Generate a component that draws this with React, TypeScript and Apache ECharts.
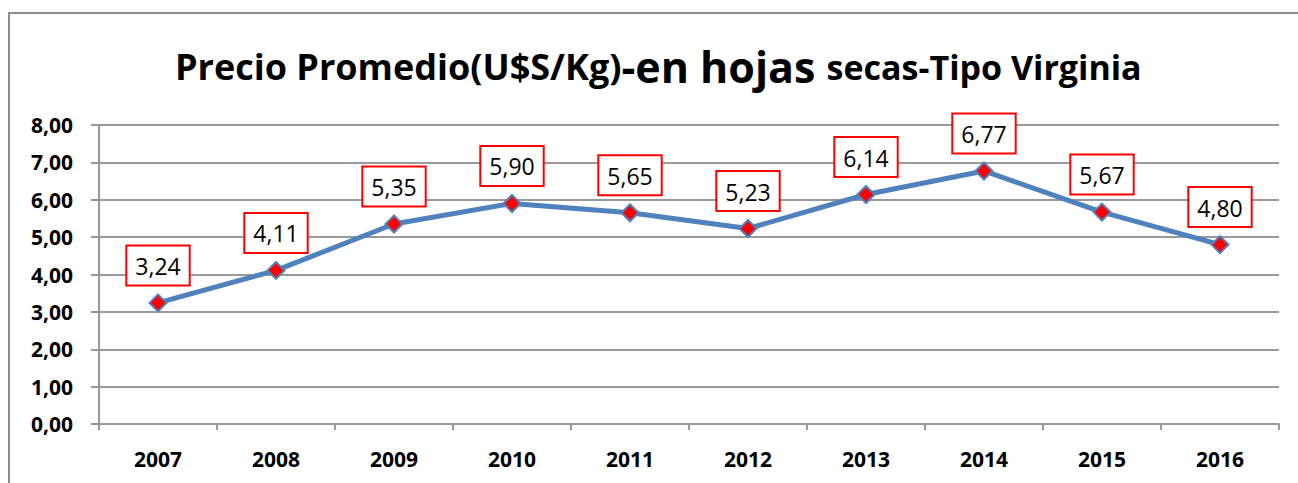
import React, { useEffect, useRef } from "react";
import * as echarts from "echarts";

const years = ["2007", "2008", "2009", "2010", "2011", "2012", "2013", "2014", "2015", "2016"];
const prices = [3.24, 4.11, 5.35, 5.9, 5.65, 5.23, 6.14, 6.77, 5.67, 4.8];
const yTicks = { min: 0, max: 8, interval: 1 };

const fmt = (v: number) => v.toFixed(2).replace(".", ",");

export default function App() {
  const ref = useRef<HTMLDivElement>(null);
  useEffect(() => {
    const chart = echarts.init(ref.current!, undefined, { renderer: "svg" });
    const font = "'Open Sans', 'Liberation Sans', sans-serif";
    chart.setOption({
      animation: false,
      backgroundColor: "#ffffff",
      title: {
        left: 170,
        top: 40,
        text: "{a|Precio Promedio(U$S/Kg)}{b|-en hojas }{c|secas-Tipo Virginia}",
        textStyle: {
          rich: {
            a: { fontFamily: font, fontWeight: "bold", fontSize: 36, color: "#000" },
            b: { fontFamily: font, fontWeight: "bold", fontSize: 43, color: "#000" },
            c: { fontFamily: font, fontWeight: "bold", fontSize: 34, color: "#000" },
          },
        },
      },
      graphic: [
        {
          type: "rect",
          shape: { x: 9, y: 13, width: 1300, height: 520 },
          style: { fill: "none", stroke: "#8c8c8c", lineWidth: 2 },
          silent: true,
        },
      ],
      grid: { left: 99, right: 19, top: 125, bottom: 59, containLabel: false },
      xAxis: {
        type: "category",
        data: years,
        boundaryGap: true,
        axisLine: { show: true, lineStyle: { color: "#999", width: 2 } },
        axisTick: { show: true, length: 6, lineStyle: { color: "#999", width: 2 } },
        axisLabel: {
          color: "#000",
          fontFamily: font,
          fontWeight: "bold",
          fontSize: 21,
          margin: 24,
        },
      },
      yAxis: {
        type: "value",
        min: yTicks.min,
        max: yTicks.max,
        interval: yTicks.interval,
        axisLine: { show: true, lineStyle: { color: "#999", width: 2 } },
        axisTick: { show: true, length: 8, lineStyle: { color: "#999", width: 2 } },
        splitLine: { show: true, lineStyle: { color: "#999", width: 2 } },
        axisLabel: {
          color: "#000",
          fontFamily: font,
          fontWeight: "bold",
          fontSize: 21,
          margin: 26,
          formatter: (v: number) => fmt(v),
        },
      },
      series: [
        {
          type: "line",
          data: prices,
          symbol: "diamond",
          symbolSize: 17,
          lineStyle: { color: "#4F81BD", width: 5 },
          itemStyle: { color: "#ff0000", borderColor: "#4F81BD", borderWidth: 2 },
          label: {
            show: true,
            position: "top",
            distance: 9,
            formatter: (p: any) => fmt(p.value),
            color: "#000",
            fontFamily: font,
            fontSize: 23,
            backgroundColor: "#fff",
            borderColor: "#ff0000",
            borderWidth: 2,
            padding: [8, 8, 7, 8],
          },
        },
      ],
    });
    return () => chart.dispose();
  }, []);
  return (
    <div
      ref={ref}
      style={{ position: "absolute", left: 0, top: 0, width: 1298, height: 483 }}
    />
  );
}
